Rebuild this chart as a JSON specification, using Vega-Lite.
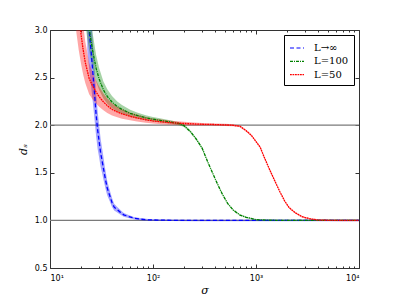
{
  "$schema": "https://vega.github.io/schema/vega-lite/v6.json",
  "autosize": "none",
  "width": 309,
  "height": 238,
  "padding": {"left": 50, "top": 30, "right": 40, "bottom": 31},
  "background": "white",
  "config": {
    "view": {"stroke": null},
    "axis": {"grid": false, "domainColor": "#333", "tickColor": "#333", "labelFont": "DejaVu Sans", "labelFontSize": 8, "labelColor": "#000"}
  },
  "datasets": {
    "curves": [
      {"series": "L→∞", "sigma": 23, "d": 3.25, "lo": 2.79, "hi": 3.71},
      {"series": "L→∞", "sigma": 24, "d": 3.0, "lo": 2.59, "hi": 3.41},
      {"series": "L→∞", "sigma": 25, "d": 2.79, "lo": 2.42, "hi": 3.16},
      {"series": "L→∞", "sigma": 26, "d": 2.57, "lo": 2.25, "hi": 2.89},
      {"series": "L→∞", "sigma": 27, "d": 2.35, "lo": 2.07, "hi": 2.63},
      {"series": "L→∞", "sigma": 28, "d": 2.12, "lo": 1.89, "hi": 2.35},
      {"series": "L→∞", "sigma": 29, "d": 1.95, "lo": 1.75, "hi": 2.15},
      {"series": "L→∞", "sigma": 30, "d": 1.83, "lo": 1.66, "hi": 2.0},
      {"series": "L→∞", "sigma": 31, "d": 1.71, "lo": 1.56, "hi": 1.86},
      {"series": "L→∞", "sigma": 32, "d": 1.63, "lo": 1.5, "hi": 1.76},
      {"series": "L→∞", "sigma": 33, "d": 1.55, "lo": 1.43, "hi": 1.67},
      {"series": "L→∞", "sigma": 34, "d": 1.47, "lo": 1.37, "hi": 1.57},
      {"series": "L→∞", "sigma": 35, "d": 1.4, "lo": 1.31, "hi": 1.49},
      {"series": "L→∞", "sigma": 36, "d": 1.337, "lo": 1.262, "hi": 1.412},
      {"series": "L→∞", "sigma": 38, "d": 1.261, "lo": 1.2, "hi": 1.32},
      {"series": "L→∞", "sigma": 40, "d": 1.188, "lo": 1.142, "hi": 1.234},
      {"series": "L→∞", "sigma": 42, "d": 1.139, "lo": 1.103, "hi": 1.175},
      {"series": "L→∞", "sigma": 45, "d": 1.112, "lo": 1.082, "hi": 1.142},
      {"series": "L→∞", "sigma": 48, "d": 1.087, "lo": 1.062, "hi": 1.112},
      {"series": "L→∞", "sigma": 52, "d": 1.058, "lo": 1.038, "hi": 1.078},
      {"series": "L→∞", "sigma": 58, "d": 1.041, "lo": 1.025, "hi": 1.057},
      {"series": "L→∞", "sigma": 65, "d": 1.024, "lo": 1.011, "hi": 1.037},
      {"series": "L→∞", "sigma": 75, "d": 1.013, "lo": 1.002, "hi": 1.024},
      {"series": "L→∞", "sigma": 90, "d": 1.006, "lo": 0.997, "hi": 1.015},
      {"series": "L→∞", "sigma": 110, "d": 1.003, "lo": 0.994, "hi": 1.012},
      {"series": "L→∞", "sigma": 150, "d": 1.001, "lo": 0.993, "hi": 1.009},
      {"series": "L→∞", "sigma": 250, "d": 1.0, "lo": 0.992, "hi": 1.008},
      {"series": "L→∞", "sigma": 10000, "d": 1.0, "lo": 0.992, "hi": 1.008},

      {"series": "L=100", "sigma": 20, "d": 3.92, "lo": 3.49, "hi": 4.35},
      {"series": "L=100", "sigma": 21, "d": 3.62, "lo": 3.25, "hi": 3.99},
      {"series": "L=100", "sigma": 22, "d": 3.38, "lo": 3.07, "hi": 3.69},
      {"series": "L=100", "sigma": 23, "d": 3.18, "lo": 2.91, "hi": 3.45},
      {"series": "L=100", "sigma": 24, "d": 3.02, "lo": 2.79, "hi": 3.25},
      {"series": "L=100", "sigma": 25, "d": 2.89, "lo": 2.68, "hi": 3.1},
      {"series": "L=100", "sigma": 26, "d": 2.78, "lo": 2.6, "hi": 2.96},
      {"series": "L=100", "sigma": 28, "d": 2.6, "lo": 2.46, "hi": 2.74},
      {"series": "L=100", "sigma": 30, "d": 2.485, "lo": 2.37, "hi": 2.6},
      {"series": "L=100", "sigma": 33, "d": 2.371, "lo": 2.28, "hi": 2.46},
      {"series": "L=100", "sigma": 36, "d": 2.302, "lo": 2.226, "hi": 2.378},
      {"series": "L=100", "sigma": 40, "d": 2.244, "lo": 2.18, "hi": 2.308},
      {"series": "L=100", "sigma": 45, "d": 2.196, "lo": 2.143, "hi": 2.249},
      {"series": "L=100", "sigma": 50, "d": 2.165, "lo": 2.119, "hi": 2.211},
      {"series": "L=100", "sigma": 60, "d": 2.125, "lo": 2.088, "hi": 2.162},
      {"series": "L=100", "sigma": 70, "d": 2.102, "lo": 2.07, "hi": 2.134},
      {"series": "L=100", "sigma": 85, "d": 2.078, "lo": 2.051, "hi": 2.105},
      {"series": "L=100", "sigma": 100, "d": 2.063, "lo": 2.039, "hi": 2.087},
      {"series": "L=100", "sigma": 120, "d": 2.049, "lo": 2.028, "hi": 2.07},
      {"series": "L=100", "sigma": 150, "d": 2.033, "lo": 2.016, "hi": 2.05},
      {"series": "L=100", "sigma": 180, "d": 2.016, "lo": 2.0, "hi": 2.032},
      {"series": "L=100", "sigma": 200, "d": 1.995, "lo": 1.98, "hi": 2.01},
      {"series": "L=100", "sigma": 230, "d": 1.935, "lo": 1.922, "hi": 1.948},
      {"series": "L=100", "sigma": 260, "d": 1.862, "lo": 1.85, "hi": 1.874},
      {"series": "L=100", "sigma": 300, "d": 1.759, "lo": 1.748, "hi": 1.77},
      {"series": "L=100", "sigma": 340, "d": 1.614, "lo": 1.604, "hi": 1.624},
      {"series": "L=100", "sigma": 380, "d": 1.495, "lo": 1.486, "hi": 1.504},
      {"series": "L=100", "sigma": 420, "d": 1.389, "lo": 1.38, "hi": 1.398},
      {"series": "L=100", "sigma": 470, "d": 1.278, "lo": 1.27, "hi": 1.286},
      {"series": "L=100", "sigma": 530, "d": 1.179, "lo": 1.171, "hi": 1.187},
      {"series": "L=100", "sigma": 600, "d": 1.109, "lo": 1.101, "hi": 1.117},
      {"series": "L=100", "sigma": 700, "d": 1.056, "lo": 1.048, "hi": 1.064},
      {"series": "L=100", "sigma": 800, "d": 1.033, "lo": 1.025, "hi": 1.041},
      {"series": "L=100", "sigma": 1000, "d": 1.008, "lo": 1.0, "hi": 1.016},
      {"series": "L=100", "sigma": 1300, "d": 1.002, "lo": 0.995, "hi": 1.009},
      {"series": "L=100", "sigma": 2000, "d": 1.0, "lo": 0.993, "hi": 1.007},
      {"series": "L=100", "sigma": 10000, "d": 1.0, "lo": 0.993, "hi": 1.007},

      {"series": "L=50", "sigma": 18, "d": 3.44, "lo": 2.98, "hi": 3.9},
      {"series": "L=50", "sigma": 19, "d": 3.17, "lo": 2.79, "hi": 3.55},
      {"series": "L=50", "sigma": 20, "d": 2.957, "lo": 2.646, "hi": 3.268},
      {"series": "L=50", "sigma": 21, "d": 2.79, "lo": 2.531, "hi": 3.049},
      {"series": "L=50", "sigma": 22, "d": 2.66, "lo": 2.442, "hi": 2.878},
      {"series": "L=50", "sigma": 24, "d": 2.49, "lo": 2.324, "hi": 2.656},
      {"series": "L=50", "sigma": 26, "d": 2.41, "lo": 2.269, "hi": 2.551},
      {"series": "L=50", "sigma": 28, "d": 2.35, "lo": 2.229, "hi": 2.471},
      {"series": "L=50", "sigma": 30, "d": 2.3, "lo": 2.194, "hi": 2.406},
      {"series": "L=50", "sigma": 33, "d": 2.245, "lo": 2.156, "hi": 2.334},
      {"series": "L=50", "sigma": 36, "d": 2.205, "lo": 2.129, "hi": 2.281},
      {"series": "L=50", "sigma": 40, "d": 2.166, "lo": 2.102, "hi": 2.23},
      {"series": "L=50", "sigma": 45, "d": 2.139, "lo": 2.083, "hi": 2.195},
      {"series": "L=50", "sigma": 50, "d": 2.119, "lo": 2.069, "hi": 2.169},
      {"series": "L=50", "sigma": 60, "d": 2.093, "lo": 2.052, "hi": 2.134},
      {"series": "L=50", "sigma": 70, "d": 2.076, "lo": 2.04, "hi": 2.112},
      {"series": "L=50", "sigma": 85, "d": 2.057, "lo": 2.027, "hi": 2.087},
      {"series": "L=50", "sigma": 100, "d": 2.045, "lo": 2.019, "hi": 2.071},
      {"series": "L=50", "sigma": 120, "d": 2.035, "lo": 2.011, "hi": 2.059},
      {"series": "L=50", "sigma": 150, "d": 2.026, "lo": 2.005, "hi": 2.047},
      {"series": "L=50", "sigma": 200, "d": 2.018, "lo": 2.0, "hi": 2.036},
      {"series": "L=50", "sigma": 250, "d": 2.013, "lo": 1.997, "hi": 2.029},
      {"series": "L=50", "sigma": 300, "d": 2.01, "lo": 1.9975, "hi": 2.0225},
      {"series": "L=50", "sigma": 400, "d": 2.007, "lo": 1.995, "hi": 2.019},
      {"series": "L=50", "sigma": 500, "d": 2.003, "lo": 1.992, "hi": 2.014},
      {"series": "L=50", "sigma": 600, "d": 1.999, "lo": 1.989, "hi": 2.009},
      {"series": "L=50", "sigma": 700, "d": 1.988, "lo": 1.979, "hi": 1.997},
      {"series": "L=50", "sigma": 800, "d": 1.943, "lo": 1.935, "hi": 1.951},
      {"series": "L=50", "sigma": 900, "d": 1.894, "lo": 1.886, "hi": 1.902},
      {"series": "L=50", "sigma": 1000, "d": 1.828, "lo": 1.82, "hi": 1.836},
      {"series": "L=50", "sigma": 1100, "d": 1.767, "lo": 1.759, "hi": 1.775},
      {"series": "L=50", "sigma": 1200, "d": 1.665, "lo": 1.657, "hi": 1.673},
      {"series": "L=50", "sigma": 1350, "d": 1.538, "lo": 1.53, "hi": 1.546},
      {"series": "L=50", "sigma": 1500, "d": 1.43, "lo": 1.422, "hi": 1.438},
      {"series": "L=50", "sigma": 1700, "d": 1.304, "lo": 1.296, "hi": 1.312},
      {"series": "L=50", "sigma": 1900, "d": 1.203, "lo": 1.195, "hi": 1.211},
      {"series": "L=50", "sigma": 2100, "d": 1.133, "lo": 1.125, "hi": 1.141},
      {"series": "L=50", "sigma": 2400, "d": 1.081, "lo": 1.073, "hi": 1.089},
      {"series": "L=50", "sigma": 2800, "d": 1.039, "lo": 1.031, "hi": 1.047},
      {"series": "L=50", "sigma": 3300, "d": 1.018, "lo": 1.01, "hi": 1.026},
      {"series": "L=50", "sigma": 4000, "d": 1.004, "lo": 0.996, "hi": 1.012},
      {"series": "L=50", "sigma": 5000, "d": 1.001, "lo": 0.993, "hi": 1.009},
      {"series": "L=50", "sigma": 7000, "d": 1.0, "lo": 0.992, "hi": 1.008},
      {"series": "L=50", "sigma": 10000, "d": 1.0, "lo": 0.992, "hi": 1.008}
    ],
    "levels": [
      {"level": 1, "sigma": 10},
      {"level": 1, "sigma": 10000},
      {"level": 2, "sigma": 10},
      {"level": 2, "sigma": 10000}
    ]
  },
  "resolve": {"axis": {"x": "independent", "y": "independent"}},
  "layer": [
    {
      "data": {"name": "levels"},
      "transform": [{"filter": "datum.level == 1"}],
      "mark": {"type": "line", "color": "#7a7a7a", "strokeWidth": 1.2},
      "encoding": {
        "x": {"field": "sigma", "type": "quantitative",
              "scale": {"type": "log", "domain": [10, 10000], "nice": false},
              "axis": {"orient": "bottom", "values": [10, 100, 1000, 10000], "tickSize": -4, "labelPadding": 10,
                       "labelExpr": "datum.value == 10 ? '10¹' : datum.value == 100 ? '10²' : datum.value == 1000 ? '10³' : '10⁴'",
                       "title": "σ", "titleFont": "DejaVu Serif", "titleFontStyle": "italic", "titleFontWeight": "normal", "titleFontSize": 11, "titlePadding": 2}},
        "y": {"field": "level", "type": "quantitative",
              "scale": {"domain": [0.5, 3], "nice": false, "zero": false},
              "axis": {"orient": "left", "values": [0.5, 1, 1.5, 2, 2.5, 3], "format": ".1f", "tickSize": -4, "labelPadding": 7,
                       "title": "dₛ", "titleFont": "DejaVu Serif", "titleFontStyle": "italic", "titleFontWeight": "normal", "titleFontSize": 11, "titlePadding": 6}}
      }
    },
    {
      "data": {"name": "levels"},
      "transform": [{"filter": "datum.level == 2"}],
      "mark": {"type": "line", "color": "#7a7a7a", "strokeWidth": 1.2},
      "encoding": {
        "x": {"field": "sigma", "type": "quantitative",
              "axis": {"orient": "top", "values": [10, 100, 1000, 10000], "tickSize": -4, "labels": false, "title": null}},
        "y": {"field": "level", "type": "quantitative",
              "axis": {"orient": "right", "values": [0.5, 1, 1.5, 2, 2.5, 3], "tickSize": -4, "labels": false, "title": null}}
      }
    },
    {
      "data": {"name": "curves"},
      "mark": {"type": "area", "clip": true, "fillOpacity": 0.35},
      "encoding": {
        "x": {"field": "sigma", "type": "quantitative",
              "axis": {"orient": "bottom", "values": [20, 30, 40, 50, 60, 70, 80, 90, 200, 300, 400, 500, 600, 700, 800, 900, 2000, 3000, 4000, 5000, 6000, 7000, 8000, 9000], "tickSize": -2, "labels": false, "domain": false, "title": null}},
        "y": {"field": "lo", "type": "quantitative", "axis": null},
        "y2": {"field": "hi"},
        "fill": {"field": "series", "type": "nominal",
                 "scale": {"domain": ["L=50", "L=100", "L→∞"], "range": ["#ff0000", "#008000", "#0000ff"]},
                 "legend": null}
      }
    },
    {
      "data": {"name": "curves"},
      "mark": {"type": "line", "clip": true, "strokeWidth": 1.3},
      "encoding": {
        "x": {"field": "sigma", "type": "quantitative",
              "axis": {"orient": "top", "values": [20, 30, 40, 50, 60, 70, 80, 90, 200, 300, 400, 500, 600, 700, 800, 900, 2000, 3000, 4000, 5000, 6000, 7000, 8000, 9000], "tickSize": -2, "labels": false, "domain": false, "title": null}},
        "y": {"field": "d", "type": "quantitative", "axis": null},
        "stroke": {"field": "series", "type": "nominal",
                   "scale": {"domain": ["L→∞", "L=100", "L=50"], "range": ["#0000ff", "#008000", "#ff0000"]},
                   "legend": {"orient": "top-right", "offset": 5, "title": null,
                              "symbolType": "stroke", "symbolSize": 196, "symbolStrokeWidth": 1.2,
                              "labelFont": "DejaVu Serif", "labelFontSize": 10, "labelColor": "#000", "labelOffset": 9,
                              "padding": 5, "rowPadding": 0.3, "strokeColor": "#000", "fillColor": "white", "cornerRadius": 0}},
        "strokeDash": {"field": "series", "type": "nominal",
                       "scale": {"domain": ["L→∞", "L=100", "L=50"], "range": [[4, 2.5], [3, 1, 1, 1], [1.8, 0.7]]}}
      }
    }
  ]
}
